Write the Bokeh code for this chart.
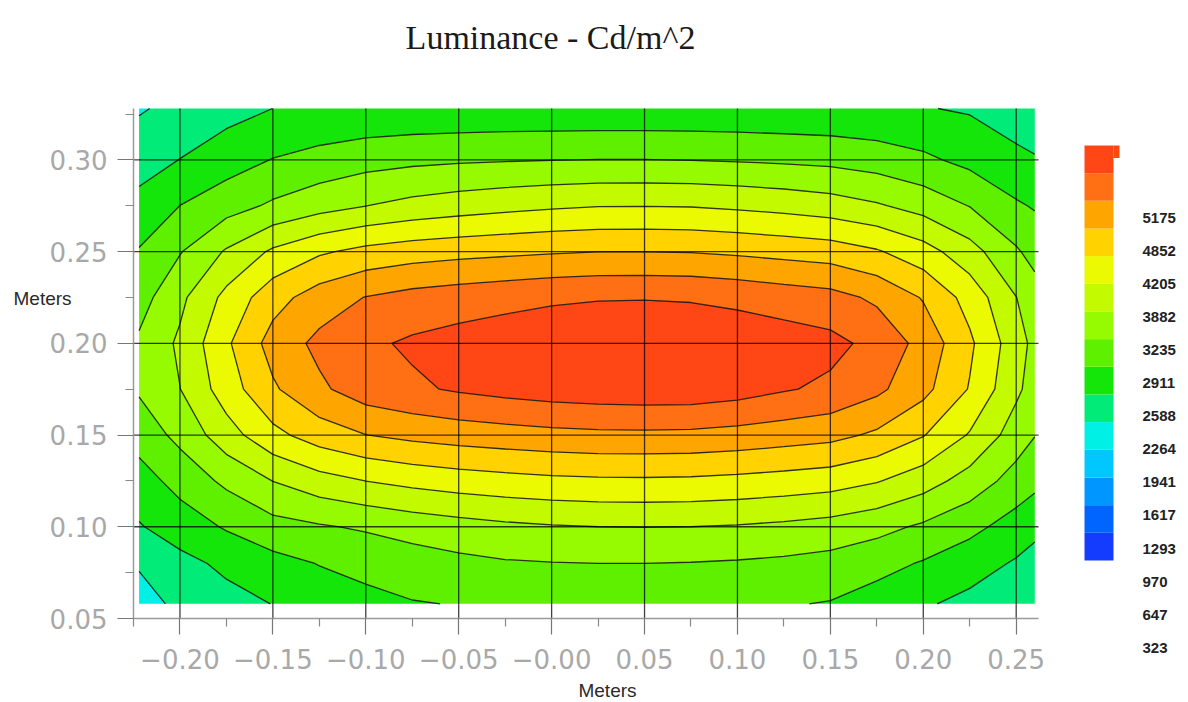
import numpy as np
from bokeh.plotting import figure
from bokeh.models import FixedTicker, Label, LinearAxis, Range1d
from bokeh.embed import file_html
from bokeh.resources import INLINE
from bokeh.core.properties import value

# ---------------- data ----------------
x_m = [-0.222, -0.20, -0.175, -0.15, -0.125, -0.10, -0.075, -0.05, -0.025, 0.0,
       0.025, 0.05, 0.075, 0.10, 0.125, 0.15, 0.175, 0.20, 0.225, 0.25, 0.26]
y_m = [0.058, 0.080, 0.100, 0.125, 0.150, 0.175, 0.200, 0.225, 0.250, 0.275, 0.300, 0.328]

lum_y058 = [1780, 2030, 2160, 2270, 2400, 2500, 2570, 2600, 2620, 2640, 2650, 2650, 2645, 2630, 2610, 2570, 2440, 2300, 2180, 2080, 2050]
lum_y080 = [1980, 2170, 2330, 2480, 2600, 2680, 2760, 2830, 2880, 2900, 2910, 2910, 2900, 2880, 2850, 2800, 2700, 2560, 2400, 2230, 2170]
lum_y100 = [2240, 2420, 2620, 2800, 2880, 2950, 3040, 3110, 3170, 3210, 3235, 3240, 3235, 3210, 3170, 3110, 3010, 2860, 2680, 2450, 2330]
lum_y125 = [2450, 2700, 2980, 3240, 3430, 3560, 3650, 3720, 3770, 3810, 3830, 3835, 3825, 3795, 3750, 3700, 3580, 3380, 3100, 2780, 2680]
lum_y150 = [2720, 3000, 3420, 3790, 4040, 4200, 4290, 4350, 4395, 4435, 4460, 4465, 4455, 4415, 4360, 4300, 4150, 3900, 3530, 3080, 2920]
lum_y175 = [2950, 3230, 3720, 4160, 4470, 4700, 4800, 4890, 4960, 5010, 5040, 5060, 5055, 4990, 4880, 4790, 4600, 4300, 3860, 3300, 3100]
lum_y200 = [2960, 3290, 3830, 4330, 4610, 4790, 4900, 4970, 5030, 5080, 5110, 5120, 5110, 5070, 5010, 4940, 4760, 4420, 3940, 3370, 3150]
lum_y225 = [2780, 3160, 3650, 4080, 4360, 4540, 4640, 4700, 4750, 4800, 4830, 4835, 4820, 4770, 4700, 4640, 4470, 4180, 3760, 3240, 3050]
lum_y250 = [2610, 2890, 3270, 3610, 3835, 3975, 4055, 4105, 4140, 4175, 4200, 4200, 4190, 4150, 4100, 4050, 3915, 3690, 3360, 2950, 2800]
lum_y275 = [2360, 2590, 2780, 2960, 3110, 3230, 3330, 3400, 3460, 3510, 3545, 3550, 3540, 3500, 3450, 3380, 3270, 3110, 2900, 2630, 2560]
lum_y300 = [2130, 2270, 2440, 2600, 2700, 2790, 2840, 2870, 2890, 2905, 2915, 2915, 2905, 2885, 2860, 2830, 2760, 2650, 2500, 2330, 2290]
lum_y328 = [1910, 2030, 2150, 2265, 2300, 2320, 2330, 2335, 2340, 2340, 2340, 2340, 2340, 2335, 2325, 2315, 2300, 2280, 2230, 2120, 2050]

levels = [323, 647, 970, 1293, 1617, 1941, 2264, 2588, 2911, 3235, 3558, 3882, 4205, 4529, 4852, 5175]
band_colors = ["#143cff", "#0064ff", "#0096ff", "#00c8ff", "#00f0e6", "#00eb78", "#14e60a",
               "#5ff000", "#96fa00", "#c3fa00", "#ebfa00", "#ffd200", "#ffa500", "#ff7014", "#ff4614"]

x_ticks = [-0.20, -0.15, -0.10, -0.05, 0.0, 0.05, 0.10, 0.15, 0.20, 0.25]
x_tick_labels = ["\u22120.20", "\u22120.15", "\u22120.10", "\u22120.05", "\u22120.00",
                 "0.05", "0.10", "0.15", "0.20", "0.25"]
y_ticks = [0.05, 0.10, 0.15, 0.20, 0.25, 0.30]
y_tick_labels = ["0.05", "0.10", "0.15", "0.20", "0.25", "0.30"]
cbar_labels = ["5175", "4852", "4205", "3882", "3235", "2911", "2588", "2264",
               "1941", "1617", "1293", "970", "647", "323"]

title_text = "Luminance - Cd/m^2"
axis_name = "Meters"

z = np.array([lum_y058, lum_y080, lum_y100, lum_y125, lum_y150, lum_y175,
              lum_y200, lum_y225, lum_y250, lum_y275, lum_y300, lum_y328], dtype=float)

# ---------------- layout (pixels) ----------------
W, H = 1188, 702
x_lo, x_hi = -0.225, 0.262          # axis extent
y_lo, y_hi = 0.05, 0.328
left_px, right_px, top_px, bottom_px = 133, 1038, 108, 618
sx = (right_px - left_px) / (x_hi - x_lo)
sy = (bottom_px - top_px) / (y_hi - y_lo)
x_start = x_lo - left_px / sx
x_end = x_hi + (W - right_px) / sx
y_end = y_hi + top_px / sy
y_start = y_lo - (H - bottom_px) / sy

def dx(px):
    return x_start + px / sx

def dy(py):
    return y_end - py / sy

p = figure(width=W, height=H, x_range=Range1d(x_start, x_end), y_range=Range1d(y_start, y_end),
           x_axis_location=None, y_axis_location=None, min_border=0,
           output_backend="svg", toolbar_location=None)
p.outline_line_color = None
p.grid.visible = False
p.background_fill_color = "white"
p.border_fill_color = "white"

p.contour(x_m, y_m, z, levels, fill_color=band_colors,
          line_color="#111111", line_width=1.3, line_alpha=0.85)

# grid lines over the field
n_xg = len(x_ticks)
p.segment(x0=x_ticks, y0=[y_lo] * n_xg, x1=x_ticks, y1=[y_hi] * n_xg,
          line_color="black", line_alpha=0.75, line_width=1.3)
yg = y_ticks[1:]
p.segment(x0=[x_lo] * len(yg), y0=yg, x1=[x_hi] * len(yg), y1=yg,
          line_color="black", line_alpha=0.75, line_width=1.3)

# axes
x_minor = [(a + b) / 2 for a, b in zip(x_ticks, x_ticks[1:])] + [x_ticks[0] - 0.025]
y_minor = [(a + b) / 2 for a, b in zip(y_ticks, y_ticks[1:])] + [y_ticks[-1] + 0.025]
xax = LinearAxis(fixed_location=y_lo, bounds=(x_lo, x_hi),
                 ticker=FixedTicker(ticks=x_ticks, minor_ticks=x_minor))
yax = LinearAxis(fixed_location=x_lo, bounds=(y_lo, y_hi),
                 ticker=FixedTicker(ticks=y_ticks, minor_ticks=y_minor))
xax.major_label_overrides = dict(zip(x_ticks, x_tick_labels))
yax.major_label_overrides = dict(zip(y_ticks, y_tick_labels))
for ax in (xax, yax):
    ax.axis_line_color = "#9a9a9a"
    ax.axis_line_width = 1.5
    ax.major_tick_line_color = "#777777"
    ax.major_tick_line_width = 1.2
    ax.major_tick_out = 16
    ax.major_tick_in = 0
    ax.minor_tick_line_color = "#888888"
    ax.minor_tick_line_width = 1.2
    ax.minor_tick_out = 8
    ax.minor_tick_in = 0
    ax.major_label_text_font = "DejaVu Sans"
    ax.major_label_text_font_size = "26px"
    ax.major_label_text_color = "#a8a8a8"
yax.major_label_standoff = 10
xax.major_label_standoff = 14
p.add_layout(xax, "below")
p.add_layout(yax, "left")

# texts
p.add_layout(Label(x=dx(550), y=dy(37), text=title_text, text_align="center", text_baseline="middle",
                   text_font="Liberation Serif", text_font_size="34px", text_color="#1a1a1a"))
p.add_layout(Label(x=dx(13), y=dy(298), text=axis_name, text_align="left", text_baseline="middle",
                   text_font="Liberation Sans", text_font_size="19px", text_color="#2a2a2a"))
p.add_layout(Label(x=dx(607), y=dy(690), text=axis_name, text_align="center", text_baseline="middle",
                   text_font="Liberation Sans", text_font_size="19px", text_color="#2a2a2a"))

# ---------------- colour bar ----------------
bar_top_px, bar_bot_px = 145, 560
cs = (bar_bot_px - bar_top_px) / (levels[-1] - levels[0])
cb_end = levels[-1] + bar_top_px / cs
cb_start = levels[0] - (H - bar_bot_px) / cs
p.extra_x_ranges = {"px": Range1d(0, W)}
p.extra_y_ranges = {"cb": Range1d(cb_start, cb_end)}

p.quad(left=1084, right=1113, bottom=levels[:-1], top=levels[1:],
       fill_color=band_colors, line_color=None, x_range_name="px", y_range_name="cb")
step = levels[-1] - levels[-2]
p.quad(left=1113, right=1119, bottom=levels[-1] - 0.45 * step, top=levels[-1],
       fill_color=band_colors[-1], line_color=None, x_range_name="px", y_range_name="cb")

lab_top_px, lab_gap_px = 217, 33.1
lab_y = [cb_end - (lab_top_px + i * lab_gap_px) / cs for i in range(len(cbar_labels))]
p.text(x=[1142] * len(cbar_labels), y=lab_y, text=cbar_labels,
       text_font=value("Liberation Sans"), text_font_style="bold",
       text_font_size="15px", text_baseline="middle", text_color="#222222",
       x_range_name="px", y_range_name="cb")

open("out.html", "w").write(file_html(p, INLINE))
